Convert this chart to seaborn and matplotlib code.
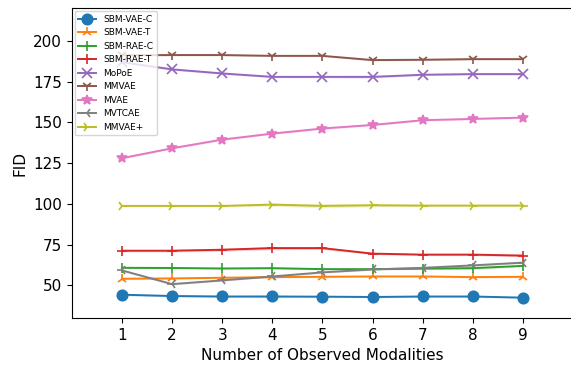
import matplotlib
matplotlib.use("Agg")
import matplotlib.pyplot as plt
import seaborn as sns
import pandas as pd
import numpy as np

x_vals = [1, 2, 3, 4, 5, 6, 7, 8, 9]
methods = ["SBM-VAE-C", "SBM-VAE-T", "SBM-RAE-C", "SBM-RAE-T", "MoPoE",
           "MMVAE", "MVAE", "MVTCAE", "MMVAE+"]
sbm_vae_c = [44.3, 43.5, 43.2, 43.2, 43.1, 42.9, 43.2, 43.2, 42.5]
sbm_vae_t = [54.1, 54.3, 54.7, 55.1, 55.3, 55.5, 55.5, 55.1, 55.3]
sbm_rae_c = [60.8, 60.7, 60.4, 60.6, 60.0, 60.0, 60.3, 60.6, 62.0]
sbm_rae_t = [71.3, 71.3, 71.9, 72.9, 72.9, 69.5, 68.9, 68.9, 68.3]
mopoe = [187.0, 182.6, 180.1, 178.0, 178.0, 178.0, 179.3, 179.7, 179.7]
mmvae = [191.3, 191.4, 191.4, 190.9, 190.9, 188.3, 188.5, 188.9, 188.9]
mvae = [128.1, 134.2, 139.5, 143.2, 146.3, 148.5, 151.4, 152.2, 153.0]
mvtcae = [59.2, 50.8, 53.1, 55.5, 58.0, 59.8, 60.8, 62.3, 64.0]
mmvae_plus = [98.8, 98.8, 98.8, 99.6, 98.8, 99.2, 99.0, 99.0, 99.0]
series = [sbm_vae_c, sbm_vae_t, sbm_rae_c, sbm_rae_t, mopoe, mmvae, mvae, mvtcae, mmvae_plus]

# spread (std) per point
std_vals = [
    [0.5, 0.5, 0.6, 0.8, 0.5, 0.5, 0.5, 0.5, 0.5],
    [0.5, 0.5, 0.5, 0.5, 0.5, 0.5, 0.5, 0.5, 0.5],
    [0.4, 0.4, 0.4, 0.6, 0.4, 0.4, 0.6, 0.8, 0.5],
    [0.7, 0.7, 0.9, 1.0, 0.8, 0.6, 0.6, 0.6, 0.8],
    [0.5, 0.6, 0.5, 0.5, 0.6, 0.8, 0.5, 0.5, 0.5],
    [0.5, 0.5, 0.5, 0.5, 0.5, 0.5, 0.5, 0.5, 0.5],
    [0.5, 0.6, 0.6, 0.6, 0.6, 0.6, 0.6, 0.6, 0.6],
    [0.5, 0.5, 0.5, 0.5, 0.5, 0.5, 0.5, 0.6, 0.6],
    [0.4, 0.4, 0.5, 1.0, 1.2, 1.0, 0.5, 0.4, 0.4],
]
marker_list = ["o", "2", "|", "+", "x", "1", "*", "3", "4"]

colors = sns.color_palette("tab10", 9)

fig = plt.figure(figsize=(5.71, 3.67), dpi=100)
ax = fig.add_axes([0.126, 0.1335, 0.8775, 0.8435])

for m, ys, sd, mk, c in zip(methods, series, std_vals, marker_list, colors):
    d = pd.DataFrame({"x": x_vals, "y": ys})
    sns.lineplot(data=d, x="x", y="y", marker=mk, color=c, markersize=7.5,
                 linewidth=1.4, markeredgewidth=1.2, markeredgecolor=c,
                 label=m, ax=ax)
    ys = np.array(ys); sd = np.array(sd)
    ax.fill_between(x_vals, ys - sd, ys + sd, color=c, alpha=0.2, linewidth=0)

ax.set_xlim(0, 10)
ax.set_ylim(30, 220)
ax.set_xticks(x_vals)
ax.set_yticks([50, 75, 100, 125, 150, 175, 200])
ax.tick_params(labelsize=11)
ax.set_xlabel("Number of Observed Modalities", fontsize=11)
ax.set_ylabel("FID", fontsize=11)

ax.legend(loc="upper left", fontsize=6.5, borderaxespad=0.3, handlelength=2.0)

fig.savefig("out.png", dpi=100)
